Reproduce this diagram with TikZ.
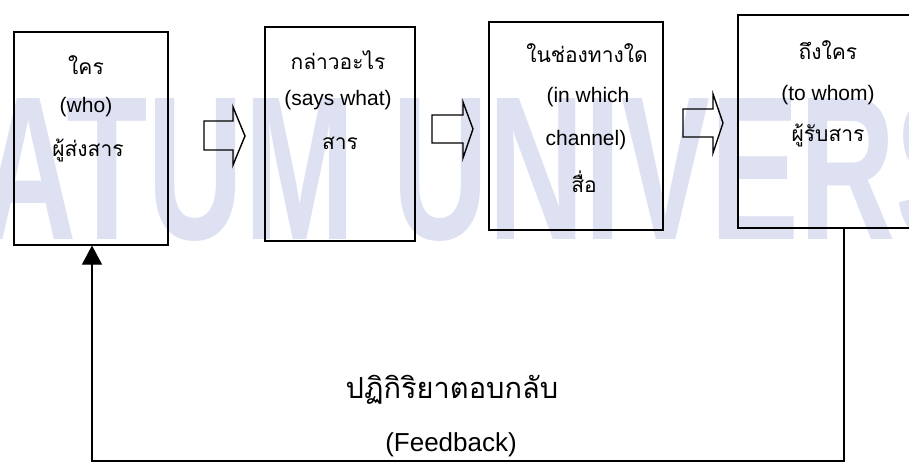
\documentclass[tikz,border=0pt]{standalone}
\usepackage{fontspec}
\setmainfont{Liberation Sans}
\newfontfamily\thai[Script=Thai]{Loma}
\usetikzlibrary{arrows.meta}
\definecolor{wm}{RGB}{222,225,241}
\tikzset{
  box/.style={draw, line width=1.1pt, inner sep=0pt},
  lat/.style={font=\fontsize{21}{21}\selectfont, inner sep=0pt},
  th/.style={font=\thai\fontsize{21}{21}\selectfont, inner sep=0pt},
  blockarrow/.style={draw, line width=1.4pt, line join=miter},
  fb/.style={line width=1.1pt},
}
\begin{document}
\begin{tikzpicture}[x=1pt,y=-1pt]
\useasboundingbox (0,0) rectangle (909,470);
% watermark
\node[anchor=base west, text=wm, font=\fontsize{205}{205}\selectfont\bfseries, xscale=0.65, inner sep=0pt] (wmark) at (-20,240) {ATUM UNIVERS};
% boxes
\node[box, minimum width=154pt, minimum height=213pt] (b1) at (91,138.5) {};
\node[box, minimum width=150pt, minimum height=214pt] (b2) at (340,134) {};
\node[box, minimum width=174pt, minimum height=208pt] (b3) at (576,126) {};
\node[box, minimum width=180pt, minimum height=213pt] (b4) at (828,121.5) {};
% texts
\node[th]  (t11) at (86,65)  {ใคร};
\node[lat] (t12) at (86,107) {(who)};
\node[th]  (t13) at (88,150) {ผู้ส่งสาร};
\node[th]  (t21) at (338,60)  {กล่าวอะไร};
\node[lat] (t22) at (338,100) {(says what)};
\node[th]  (t23) at (340,143) {สาร};
\node[th]  (t31) at (587,53)  {ในช่องทางใด};
\node[lat] (t32) at (588,97)  {(in which};
\node[lat] (t33) at (586,140) {channel)};
\node[th]  (t34) at (584,182) {สื่อ};
\node[th]  (t41) at (828,50)  {ถึงใคร};
\node[lat] (t42) at (828,95)  {(to whom)};
\node[th]  (t43) at (828,135) {ผู้รับสาร};
% block arrows
\draw[blockarrow] (204,121) -- (233,121) -- (233,107) -- (245,136) -- (233,165) -- (233,150) -- (204,150) -- cycle;
\draw[blockarrow] (432,115) -- (463,115) -- (463,102) -- (473,129) -- (463,158) -- (463,143) -- (432,143) -- cycle;
\draw[blockarrow] (683,109) -- (713,109) -- (713,94) -- (723,123) -- (713,153) -- (713,137) -- (683,137) -- cycle;
% feedback
\coordinate (c2) at (844,461);
\coordinate (c3) at (92,461);
\draw[fb, -{Triangle[width=20pt,length=19pt]}] (b4.south -| c2) -- (c2) -- (c3) -- (b1.south -| c3);
\node[font=\thai\fontsize{29}{29}\selectfont, inner sep=0pt] (fbt) at (452,390) {ปฏิกิริยาตอบกลับ};
\node[font=\fontsize{26}{26}\selectfont, inner sep=0pt] (fbl) at (451,445) {(Feedback)};
\end{tikzpicture}
\end{document}
